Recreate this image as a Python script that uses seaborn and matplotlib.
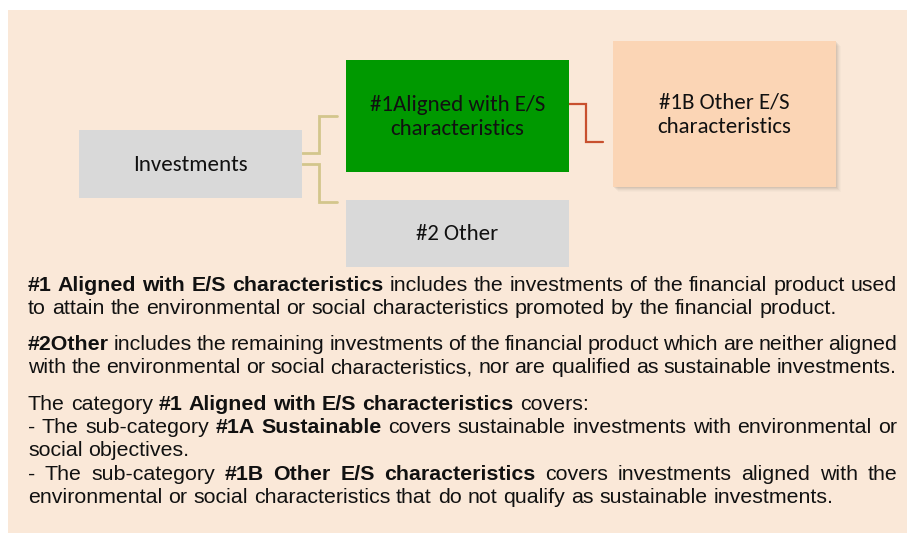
import matplotlib
matplotlib.use("Agg")
import matplotlib.pyplot as plt
import seaborn as sns
from matplotlib.patches import Rectangle
from matplotlib import font_manager as fm

sns.set_theme(style="white")
plt.rcParams['font.family'] = ['Liberation Sans', 'DejaVu Sans']

# ---- content ----
box_labels = ["Investments", "#1Aligned with E/S\ncharacteristics", "#2 Other",
              "#1B Other E/S\ncharacteristics"]
box_colors = ["#D9D9D9", "#009900", "#D9D9D9", "#FBD5B5"]

# each line: list of (text, bold), justify flag
para_lines = [
    ([("#1 Aligned with E/S characteristics", True),
      (" includes the investments of the financial product used", False)], True),
    ([("to attain the environmental or social characteristics promoted by the financial product.", False)], False),
    ([("#2Other", True),
      (" includes the remaining investments of the financial product which are neither aligned", False)], True),
    ([("with the environmental or social characteristics, nor are qualified as sustainable investments.", False)], True),
    ([("The category ", False), ("#1 Aligned with E/S characteristics", True), (" covers:", False)], False),
    ([("- The sub-category ", False), ("#1A Sustainable", True),
      (" covers sustainable investments with environmental or", False)], True),
    ([("social objectives.", False)], False),
    ([("- The sub-category ", False), ("#1B Other E/S characteristics", True),
      (" covers investments aligned with the", False)], True),
    ([("environmental or social characteristics that do not qualify as sustainable investments.", False)], False),
]
line_baselines = [291, 314, 350, 373, 410, 433, 456, 480, 503]

W, H = 907, 533
fig = plt.figure(figsize=(W / 100, H / 100), dpi=100)
ax = fig.add_axes([0, 0, 1, 1])
ax.set_xlim(0, W)
ax.set_ylim(H, 0)
ax.axis("off")
fig.patch.set_facecolor("white")

# background panel
ax.add_patch(Rectangle((8, 10), W - 8, H - 10, facecolor="#FAE8D8", edgecolor="none", zorder=0))

# boxes (x, y, w, h)
boxes = [(79, 130, 223, 68), (346, 60, 223, 112), (346, 200, 223, 67), (613, 41, 223, 146)]
installed = set(f.name for f in fm.fontManager.ttflist)
box_font = ['Carlito' if 'Carlito' in installed else 'Lato', 'DejaVu Sans']
box_fs = 16.5 if 'Carlito' in installed else 16

# shadow for 1B box
bx, by, bw, bh = boxes[3]
for i, a in enumerate([0.10, 0.08, 0.06, 0.04, 0.03]):
    off = 1 + i
    ax.add_patch(Rectangle((bx + off, by + off), bw, bh, facecolor="#7a6a5a",
                           edgecolor="none", alpha=a, zorder=1))

for (x, y, w, h), c, lab in zip(boxes, box_colors, box_labels):
    ax.add_patch(Rectangle((x, y), w, h, facecolor=c, edgecolor="none", zorder=2))
    ax.text(x + w / 2, y + h / 2 + 1, lab, ha="center", va="center", fontsize=box_fs,
            family=box_font, color="#111111", linespacing=1.3, zorder=3)

# connectors
tan = "#D3C68C"
ax.plot([302, 319, 319, 337], [153, 153, 116, 116], color=tan, lw=2, zorder=1,
        solid_joinstyle="miter")
ax.plot([302, 319, 319, 337], [164, 164, 202, 202], color=tan, lw=2, zorder=1,
        solid_joinstyle="miter")
ax.plot([569, 586, 586, 603], [104, 104, 142, 142], color="#C8502E", lw=1.6, zorder=1,
        solid_joinstyle="miter")

# paragraphs with justification
FS = 15.4
PFONT = ['Liberation Sans', 'DejaVu Sans']
X0, X1 = 28, 897
renderer = fig.canvas.get_renderer()


def measure(s, bold):
    t = ax.text(0, 0, s, fontsize=FS, family=PFONT, fontweight="bold" if bold else "normal")
    w = t.get_window_extent(renderer).width
    t.remove()
    return w


space_w = measure("a a", False) - measure("aa", False)

for (segs, justify), yb in zip(para_lines, line_baselines):
    words = []
    for s, b in segs:
        for wd in s.split(" "):
            if wd:
                words.append((wd, b))
    widths = [measure(wd, b) for wd, b in words]
    if justify and len(words) > 1:
        gap = (X1 - X0 - sum(widths)) / (len(words) - 1)
    else:
        gap = space_w
    x = X0
    for (wd, b), wdt in zip(words, widths):
        ax.text(x, yb, wd, fontsize=FS, family=PFONT, fontweight="bold" if b else "normal",
                ha="left", va="baseline", color="#111111", zorder=3)
        x += wdt + gap

fig.savefig("out.png", dpi=100)
